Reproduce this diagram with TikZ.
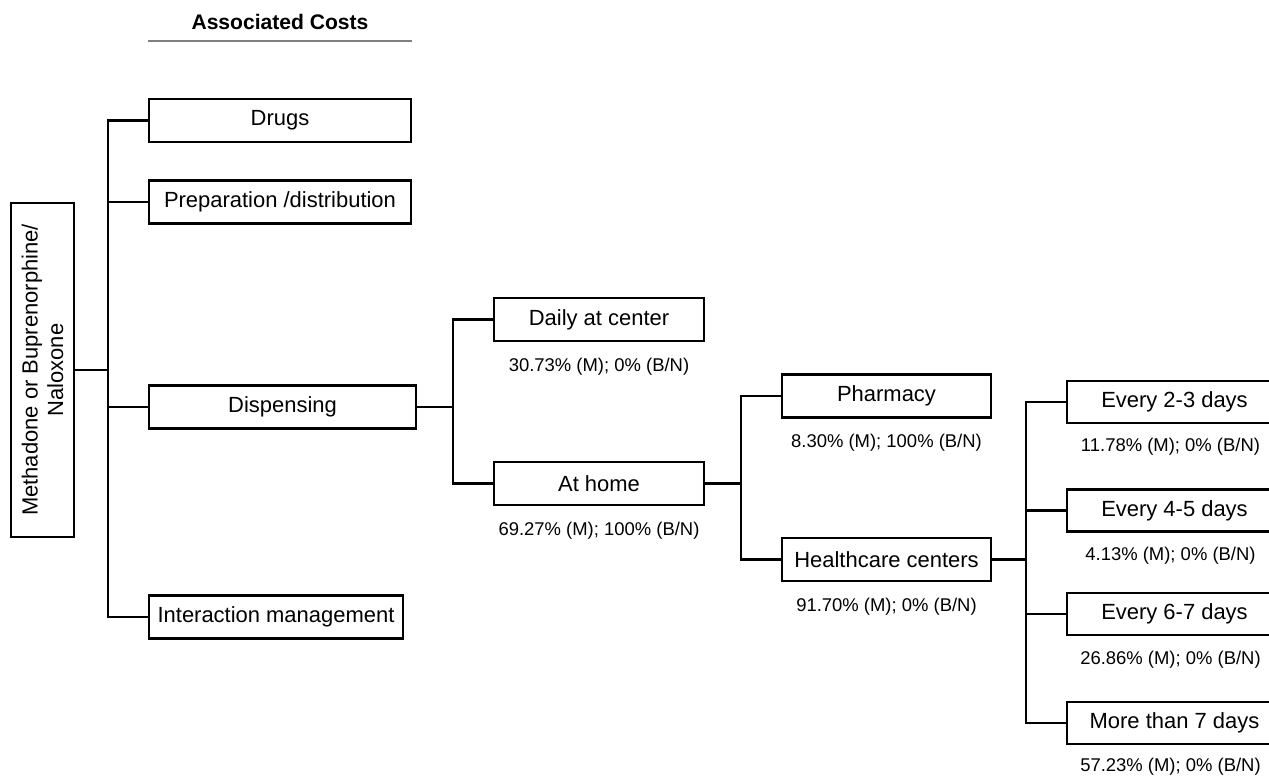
\documentclass[tikz,border=0pt]{standalone}
\usepackage{fontspec}
\setmainfont{Liberation Sans}
\usetikzlibrary{positioning,calc}

\begin{document}
\begin{tikzpicture}[x=0.02cm, y=-0.02cm, line width=1.2pt,
    every node/.style={draw, minimum height=0.86cm, inner sep=2pt, font=\fontsize{12.5}{14.5}\selectfont},
    pct/.style={draw=none, minimum height=0pt, inner sep=0pt, font=\fontsize{10.5}{12}\selectfont}]
    \useasboundingbox (0,0) rectangle (1269,775);

    \node[draw=none, minimum height=0pt, font=\fontsize{12}{14}\selectfont\bfseries] (title) at (280, 22) {Associated Costs};
    \draw[line width=0.6pt, gray] (148, 41) -- (412, 41);

    \node[rotate=90, minimum width=6.68cm, minimum height=1.26cm, align=center] (root) at (42.5, 370) {Methadone or Buprenorphine/\\Naloxone};

    \node[minimum width=5.24cm] (drugs) at (280, 120.5) {Drugs};
    \node[minimum width=5.24cm] (prep) at (280, 202) {Preparation /distribution};
    \node[minimum width=5.34cm] (disp) at (282.5, 407) {Dispensing};
    \node[minimum width=5.08cm] (inter) at (276, 617) {Interaction management};

    \node[minimum width=4.2cm] (daily) at (599, 319.5) {Daily at center};
    \node[minimum width=4.2cm] (home) at (599, 483.5) {At home};
    \node[pct, below=0.3cm of daily] (daily_pct) {30.73\% (M); 0\% (B/N)};
    \node[pct, below=0.3cm of home] (home_pct) {69.27\% (M); 100\% (B/N)};

    \node[minimum width=4.18cm] (pharm) at (886.5, 396) {Pharmacy};
    \node[minimum width=4.18cm] (health) at (886.5, 559.5) {Healthcare centers};
    \node[pct, below=0.3cm of pharm] (pharm_pct) {8.30\% (M); 100\% (B/N)};
    \node[pct, below=0.3cm of health] (health_pct) {91.70\% (M); 0\% (B/N)};

    \node[minimum width=4.3cm, minimum height=0.84cm] (f23) at (1174.5, 402) {Every 2-3 days};
    \node[minimum width=4.3cm, minimum height=0.84cm] (f45) at (1174.5, 510.5) {Every 4-5 days};
    \node[minimum width=4.3cm, minimum height=0.84cm] (f67) at (1174.5, 614) {Every 6-7 days};
    \node[minimum width=4.3cm, minimum height=0.84cm] (f7) at (1174.5, 723) {More than 7 days};
    \node[pct, below=0.26cm of f23, xshift=-0.08cm] (f23_pct) {11.78\% (M); 0\% (B/N)};
    \node[pct, below=0.28cm of f45, xshift=-0.08cm] (f45_pct) {4.13\% (M); 0\% (B/N)};
    \node[pct, below=0.28cm of f67, xshift=-0.08cm] (f67_pct) {26.86\% (M); 0\% (B/N)};
    \node[pct, below=0.24cm of f7, xshift=-0.08cm] (f7_pct) {57.23\% (M); 0\% (B/N)};

    % tree lines
    \draw (root.south) -- ++(33,0) coordinate (j1);
    \draw (drugs.west) -| (j1 |- inter.west) -- (inter.west);
    \draw (j1 |- prep.west) -- (prep.west);
    \draw (j1 |- disp.west) -- (disp.west);

    \draw (disp.east) -- ++(36,0) coordinate (j2);
    \draw (daily.west) -| (j2 |- home.west) -- (home.west);

    \draw (home.east) -- ++(36,0) coordinate (j3);
    \draw (pharm.west) -| (j3 |- health.west) -- (health.west);

    \draw (health.east) -- ++(34,0) coordinate (j4);
    \draw (f23.west) -| (j4 |- f7.west) -- (f7.west);
    \draw (j4 |- f45.west) -- (f45.west);
    \draw (j4 |- f67.west) -- (f67.west);
\end{tikzpicture}
\end{document}
